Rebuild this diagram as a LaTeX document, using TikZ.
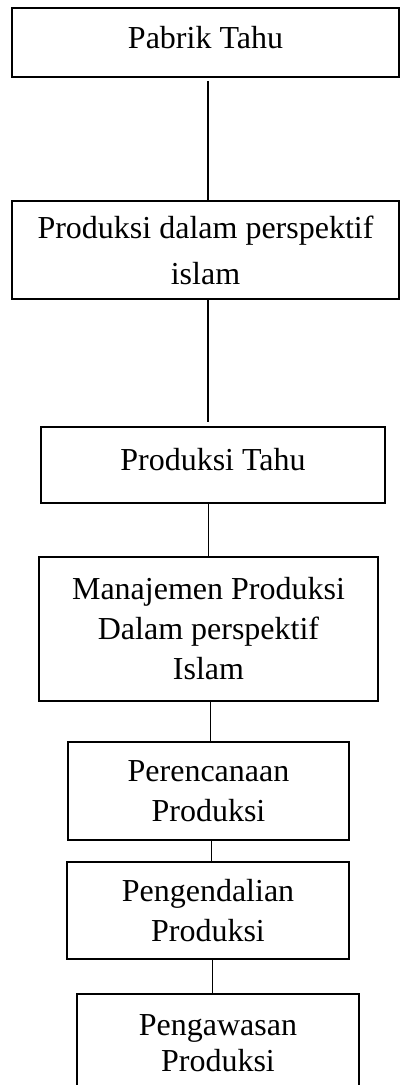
\documentclass[tikz,border=0pt]{standalone}
\usepackage{fontspec}
\setmainfont{Liberation Serif}
\usetikzlibrary{calc}

\begin{document}
\begin{tikzpicture}[x=1pt, y=-1pt, font=\fontsize{32}{40}\selectfont,
	box/.style={draw, line width=1.6pt, inner sep=0pt, align=center},
	thinbox/.style={box, line width=1.2pt},
	link/.style={line width=1.8pt},
	thinlink/.style={line width=1pt}]

	\useasboundingbox (0,0) rectangle (401,1085);

	\node[box, minimum width=387pt, minimum height=69pt, text depth=11pt] (pabrik) at (205.5,42.5) {Pabrik Tahu};
	\node[box, minimum width=387pt, minimum height=98pt] (perspektif) at (205.5,250) {Produksi dalam perspektif\\[6pt]islam};
	\node[box, minimum width=344pt, minimum height=76pt, text depth=11pt] (tahu) at (213,465) {Produksi Tahu};
	\node[box, minimum width=339pt, minimum height=144pt] (manajemen) at (208.5,629) {Manajemen Produksi\\Dalam perspektif\\Islam};
	\node[thinbox, minimum width=281pt, minimum height=98pt] (perencanaan) at (208.5,791) {Perencanaan\\Produksi};
	\node[thinbox, minimum width=282pt, minimum height=97pt] (pengendalian) at (208,910.5) {Pengendalian\\Produksi};
	\node[thinbox, minimum width=282pt, minimum height=98pt] (pengawasan) at (218,1043) {Pengawasan\\[-4pt]Produksi};

	\draw[link, shorten <=3pt] ([xshift=2.5pt]pabrik.south) -- ([xshift=2.5pt]pabrik.south |- perspektif.north);
	\draw[link, shorten >=4pt] ([xshift=2.5pt]perspektif.south) -- ([xshift=2.5pt]perspektif.south |- tahu.north);
	\draw[thinlink] (tahu.south -| manajemen.north) -- (manajemen.north);
	\draw[thinlink] ([xshift=1.5pt]manajemen.south) -- ([xshift=1.5pt]manajemen.south |- perencanaan.north);
	\draw[thinlink] ([xshift=3pt]perencanaan.south) -- ([xshift=3pt]perencanaan.south |- pengendalian.north);
	\draw[thinlink] ([xshift=4pt]pengendalian.south) -- ([xshift=4pt]pengendalian.south |- pengawasan.north);

\end{tikzpicture}
\end{document}
